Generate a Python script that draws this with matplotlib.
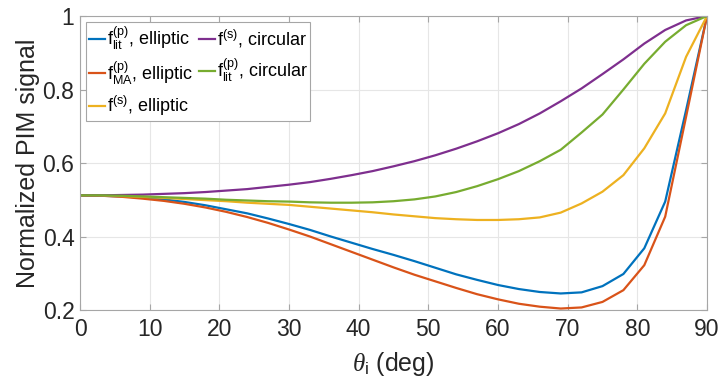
import matplotlib.pyplot as plt
import numpy as np

plt.rcParams['font.family'] = ['Liberation Sans', 'DejaVu Sans']
plt.rcParams['mathtext.fontset'] = 'custom'
plt.rcParams['mathtext.rm'] = 'Liberation Sans'
plt.rcParams['mathtext.it'] = 'Liberation Serif:italic'

# incidence angle (deg)
theta = np.arange(0, 91, 3)

lit_elliptic = [0.512, 0.511, 0.509, 0.506, 0.501, 0.494, 0.485, 0.474, 0.463, 0.449,
                0.434, 0.418, 0.400, 0.383, 0.366, 0.350, 0.333, 0.315, 0.297, 0.282,
                0.268, 0.257, 0.249, 0.245, 0.248, 0.265, 0.298, 0.368, 0.495, 0.744, 1.0]
ma_elliptic = [0.512, 0.511, 0.508, 0.503, 0.497, 0.489, 0.479, 0.467, 0.453, 0.437,
               0.419, 0.400, 0.379, 0.358, 0.337, 0.316, 0.296, 0.278, 0.260, 0.243,
               0.229, 0.217, 0.209, 0.204, 0.207, 0.222, 0.254, 0.322, 0.454, 0.726, 1.0]
s_elliptic = [0.512, 0.511, 0.510, 0.508, 0.505, 0.502, 0.499, 0.496, 0.492, 0.489,
              0.486, 0.481, 0.476, 0.471, 0.466, 0.460, 0.455, 0.450, 0.447, 0.445,
              0.445, 0.447, 0.452, 0.465, 0.490, 0.522, 0.567, 0.640, 0.735, 0.889, 1.0]
s_circular = [0.512, 0.512, 0.513, 0.514, 0.516, 0.518, 0.521, 0.525, 0.529, 0.535,
              0.541, 0.548, 0.557, 0.567, 0.578, 0.591, 0.605, 0.621, 0.639, 0.659,
              0.681, 0.706, 0.735, 0.768, 0.803, 0.842, 0.882, 0.925, 0.962, 0.988, 1.0]
lit_circular = [0.512, 0.512, 0.511, 0.509, 0.507, 0.505, 0.503, 0.500, 0.498, 0.496,
                0.495, 0.493, 0.492, 0.492, 0.493, 0.496, 0.501, 0.509, 0.521, 0.537,
                0.556, 0.578, 0.605, 0.636, 0.683, 0.732, 0.800, 0.870, 0.930, 0.975, 1.0]

fig = plt.figure(figsize=(7.19, 3.84), dpi=100)
ax = fig.add_axes([0.1113, 0.1927, 0.872, 0.7656])

ax.plot(theta, lit_elliptic, color='#0072BD', lw=1.6, label=r'$\mathrm{f_{lit}^{(p)}}$, elliptic')
ax.plot(theta, ma_elliptic, color='#D95319', lw=1.6, label=r'$\mathrm{f_{MA}^{(p)}}$, elliptic')
ax.plot(theta, s_elliptic, color='#EDB120', lw=1.6, label=r'$\mathrm{f^{(s)}}$, elliptic')
ax.plot(theta, s_circular, color='#7E2F8E', lw=1.6, label=r'$\mathrm{f^{(s)}}$, circular')
ax.plot(theta, lit_circular, color='#77AC30', lw=1.6, label=r'$\mathrm{f_{lit}^{(p)}}$, circular')

ax.set_xlim(0, 90)
ax.set_ylim(0.2, 1)
ax.set_xticks(np.arange(0, 91, 10))
ax.set_yticks([0.2, 0.4, 0.6, 0.8, 1.0])
ax.set_yticklabels(['0.2', '0.4', '0.6', '0.8', '1'])
ax.grid(True, color='#e6e6e6', lw=0.8)
ax.set_axisbelow(True)
for s in ax.spines.values():
    s.set_color('#a6a6a6')
ax.tick_params(direction='in', top=True, right=True, labelsize=16.5, colors='#a6a6a6',
               labelcolor='#262626', length=4)
ax.tick_params(axis='y', pad=4)
ax.tick_params(axis='x', pad=6)

ax.set_xlabel(r'$\theta_{\mathrm{i}}$ (deg)', fontsize=18, color='#262626', labelpad=6)
ax.set_ylabel('Normalized PIM signal', fontsize=18, color='#262626', labelpad=2)

leg = ax.legend(loc='upper left', ncol=2, fontsize=13, handlelength=0.9, handletextpad=0.1,
                columnspacing=0.3, labelspacing=0.4, borderpad=0.15, borderaxespad=0.35,
                fancybox=False, framealpha=1)
leg.get_frame().set_edgecolor('#a6a6a6')
leg.get_frame().set_linewidth(0.8)

fig.savefig('out.png', dpi=100)
